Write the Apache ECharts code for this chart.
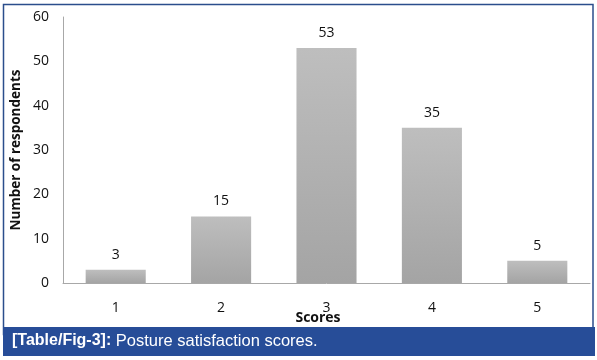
<!DOCTYPE html>
<html>
<head>
<meta charset="utf-8">
<style>html,body{margin:0;padding:0;background:#fff;}#c{width:597px;height:360px;}</style>
<script src="https://cdn.jsdelivr.net/npm/echarts@6/dist/echarts.min.js"></script>
</head>
<body>
<div id="c"></div>
<script>
var categories = ['1', '2', '3', '4', '5'];
var respondents = [3, 15, 53, 35, 5];
var yTicks = [0, 10, 20, 30, 40, 50, 60];
var xTitle = 'Scores';
var yTitle = 'Number of respondents';
var captionBold = '[Table/Fig-3]:';
var captionText = ' Posture satisfaction scores.';

var chart = echarts.init(document.getElementById('c'), null, {renderer: 'canvas'});
var txtFont = '"Open Sans", "DejaVu Sans", sans-serif';
chart.setOption({
  animation: false,
  backgroundColor: '#ffffff',
  grid: {left: 63, right: 7, top: 17, bottom: 77, containLabel: false},
  xAxis: {
    type: 'category',
    data: categories,
    axisLine: {show: true, lineStyle: {color: '#a8a8a8', width: 1}},
    axisTick: {show: false},
    axisLabel: {color: '#111111', fontSize: 14, fontWeight: 500, fontFamily: txtFont, margin: 18}
  },
  yAxis: {
    type: 'value',
    min: yTicks[0],
    max: yTicks[yTicks.length - 1],
    interval: yTicks[1] - yTicks[0],
    axisLine: {show: true, lineStyle: {color: '#a8a8a8', width: 1}},
    axisTick: {show: false},
    splitLine: {show: false},
    axisLabel: {color: '#111111', fontSize: 14, fontWeight: 500, fontFamily: txtFont, margin: 14}
  },
  series: [{
    type: 'bar',
    data: respondents,
    barWidth: '57%',
    itemStyle: {
      color: new echarts.graphic.LinearGradient(0, 0, 0, 1, [
        {offset: 0, color: '#bebebe'},
        {offset: 1, color: '#a4a4a4'}
      ])
    },
    label: {show: true, position: 'top', distance: 8, color: '#111111', fontSize: 14, fontWeight: 500, fontFamily: txtFont}
  }],
  graphic: [
    {type: 'rect', shape: {x: 3.5, y: 4.5, width: 589.5, height: 330}, style: {fill: 'none', stroke: '#2b4e8c', lineWidth: 1.5}, z: 0},
    {type: 'rect', shape: {x: 3, y: 327, width: 592, height: 29}, style: {fill: '#274d98'}, z: 1},
    {type: 'text', x: 12, y: 341, style: {
      text: '{b|' + captionBold + '}{r|' + captionText + '}',
      verticalAlign: 'middle',
      rich: {
        b: {fill: '#ffffff', fontSize: 16, fontWeight: 'bold', fontFamily: '"Liberation Sans", Arial, sans-serif'},
        r: {fill: '#ffffff', fontSize: 16.5, fontFamily: '"Liberation Sans", Arial, sans-serif'}
      }
    }, z: 2},
    {type: 'text', x: 318, y: 318, style: {text: xTitle, align: 'center', verticalAlign: 'middle', fill: '#111111', fontSize: 14, fontWeight: 'bold', fontFamily: txtFont}, z: 2},
    {type: 'text', x: 16, y: 150, rotation: Math.PI / 2, style: {text: yTitle, align: 'center', verticalAlign: 'middle', fill: '#111111', fontSize: 13.5, fontWeight: 'bold', fontFamily: txtFont}, z: 2}
  ]
});
</script>
</body>
</html>
